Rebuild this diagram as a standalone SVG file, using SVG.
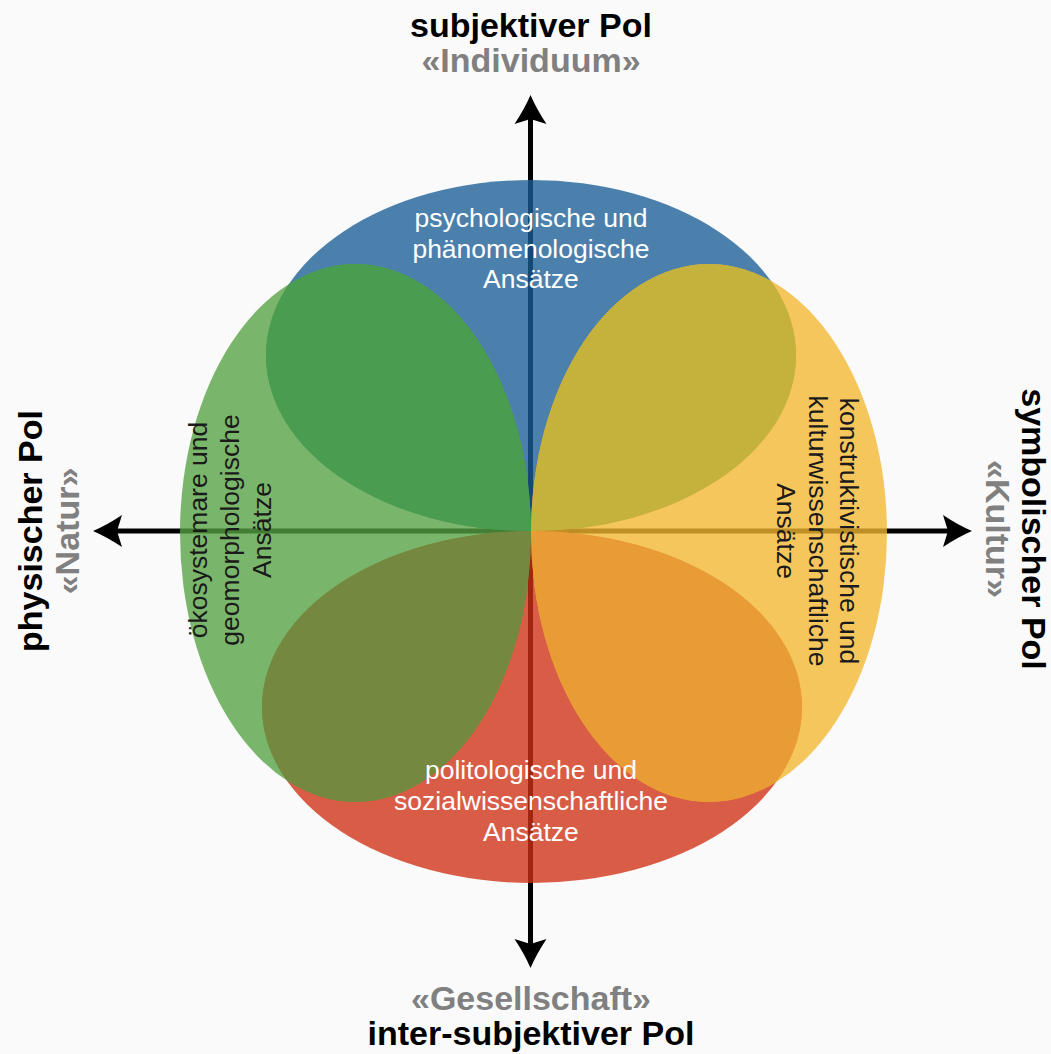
<svg xmlns="http://www.w3.org/2000/svg" width="1051" height="1054" viewBox="0 0 1051 1054">
<style>
.pole{font-family:"Liberation Sans",Arial,sans-serif;font-weight:bold;font-size:34px;fill:#000;text-anchor:middle}
.alias{font-family:"Liberation Sans",Arial,sans-serif;font-weight:bold;font-size:34px;fill:#808080;text-anchor:middle}
.lbl{font-family:"Liberation Sans",Arial,sans-serif;font-size:26.5px;text-anchor:middle}
.w{fill:#ffffff}
.k{fill:#1a1a1a}
.axis{stroke:#000;stroke-width:5;fill:none}
.petal{fill-opacity:0.78}
</style>
<defs>
<marker id="arrow" markerUnits="userSpaceOnUse" markerWidth="32" markerHeight="34" refX="8" refY="17" orient="auto" viewBox="0 0 32 34">
<path d="M30,17 Q16,11 1,1 L6,17 L1,33 Q16,23 30,17 Z" fill="#000"/>
</marker>
<clipPath id="clipBlue"><ellipse cx="531" cy="355.5" rx="265" ry="175.5"/></clipPath>
<clipPath id="clipRed"><ellipse cx="532" cy="707" rx="270" ry="176"/></clipPath>
</defs>
<rect x="0" y="0" width="1051" height="1054" fill="#fafafa"/>
<g id="connectors">
<line class="axis" x1="530.5" y1="531" x2="530.5" y2="117" marker-end="url(#arrow)"/>
<line class="axis" x1="530.5" y1="531" x2="530.5" y2="946" marker-end="url(#arrow)"/>
<line class="axis" x1="531" y1="531" x2="115" y2="531" marker-end="url(#arrow)"/>
<line class="axis" x1="531" y1="531" x2="950" y2="531" marker-end="url(#arrow)"/>
</g>
<g id="psychologisch">
<ellipse class="petal" cx="531" cy="355.5" rx="265" ry="175.5" fill="#1a5e96"/>
</g>
<g id="politologisch">
<ellipse class="petal" cx="532" cy="707" rx="270" ry="176" fill="#d02f13"/>
</g>
<g id="oekosystemar">
<ellipse class="petal" cx="355.5" cy="533" rx="175.5" ry="269" fill="#55a241"/>
</g>
<g id="konstruktivistisch">
<ellipse class="petal" cx="709" cy="533" rx="178" ry="269" fill="#f4b72f"/>
</g>
<g id="overlaps">
<ellipse cx="355.5" cy="533" rx="175.5" ry="269" fill="#4a9c50" clip-path="url(#clipBlue)"/>
<ellipse cx="709" cy="533" rx="178" ry="269" fill="#c5b23c" clip-path="url(#clipBlue)"/>
<ellipse cx="355.5" cy="533" rx="175.5" ry="269" fill="#74883f" clip-path="url(#clipRed)"/>
<ellipse cx="709" cy="533" rx="178" ry="269" fill="#e99b36" clip-path="url(#clipRed)"/>
</g>
<g id="label-top">
<text class="lbl w" x="531" y="227">psychologische und</text>
<text class="lbl w" x="531" y="257.5">phänomenologische</text>
<text class="lbl w" x="531" y="288">Ansätze</text>
</g>
<g id="label-bottom">
<text class="lbl w" x="531" y="779">politologische und</text>
<text class="lbl w" x="531" y="810">sozialwissenschaftliche</text>
<text class="lbl w" x="531" y="841">Ansätze</text>
</g>
<g id="label-left">
<text class="lbl k" transform="translate(207,530) rotate(-90)">ökosystemare und</text>
<text class="lbl k" transform="translate(239,530) rotate(-90)">geomorphologische</text>
<text class="lbl k" transform="translate(271,530) rotate(-90)">Ansätze</text>
</g>
<g id="label-right">
<text class="lbl k" transform="translate(840,531) rotate(90)">konstruktivistische und</text>
<text class="lbl k" transform="translate(809,531) rotate(90)">kulturwissenschaftliche</text>
<text class="lbl k" transform="translate(777,531) rotate(90)">Ansätze</text>
</g>
<g id="pole-top">
<text class="pole" x="531" y="37">subjektiver Pol</text>
<text class="alias" x="531" y="72">«Individuum»</text>
</g>
<g id="pole-bottom">
<text class="alias" x="531" y="1010">«Gesellschaft»</text>
<text class="pole" x="531" y="1045">inter-subjektiver Pol</text>
</g>
<g id="pole-left">
<text class="pole" transform="translate(42,531) rotate(-90)">physischer Pol</text>
<text class="alias" transform="translate(79,531) rotate(-90)">«Natur»</text>
</g>
<g id="pole-right">
<text class="pole" transform="translate(1022,529) rotate(90)">symbolischer Pol</text>
<text class="alias" transform="translate(986,529) rotate(90)">«Kultur»</text>
</g>
</svg>
